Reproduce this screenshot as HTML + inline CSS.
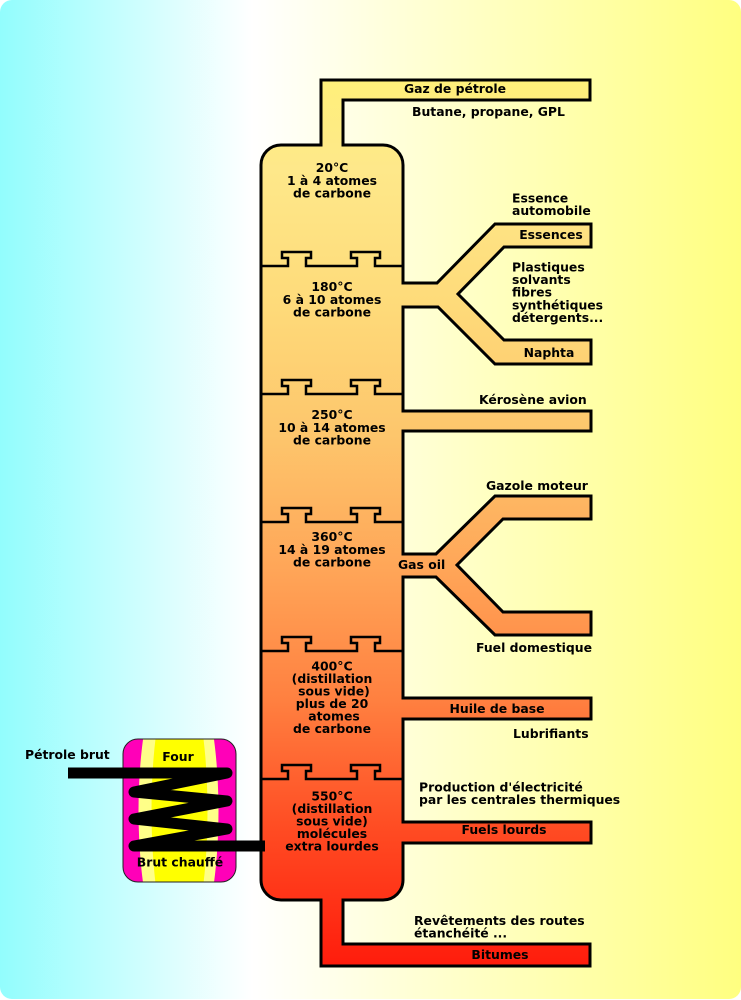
<!DOCTYPE html>
<html><head><meta charset="utf-8">
<style>
html,body{margin:0;padding:0;background:#fff;}
svg{display:block;}
text{font-family:"DejaVu Sans","Liberation Sans",sans-serif;font-weight:bold;font-size:12.4px;fill:#000;}
</style></head>
<body>
<svg width="741" height="1000" viewBox="0 0 741 1000" xmlns="http://www.w3.org/2000/svg">
<defs>
<linearGradient id="bg" x1="0" y1="0" x2="741" y2="0" gradientUnits="userSpaceOnUse">
<stop offset="0" stop-color="#92fdfd"/>
<stop offset="0.34" stop-color="#ffffff"/>
<stop offset="1" stop-color="#ffff80"/>
</linearGradient>
<linearGradient id="col" x1="0" y1="80" x2="0" y2="966" gradientUnits="userSpaceOnUse">
<stop offset="0" stop-color="#fff07a"/>
<stop offset="0.1" stop-color="#fee88a"/>
<stop offset="0.25" stop-color="#fedb7a"/>
<stop offset="0.4" stop-color="#fdc66c"/>
<stop offset="0.55" stop-color="#ffa658"/>
<stop offset="0.7" stop-color="#ff8040"/>
<stop offset="0.85" stop-color="#ff4a22"/>
<stop offset="1" stop-color="#ff1c0c"/>
</linearGradient>
<clipPath id="fc"><rect x="123" y="739" width="113" height="143" rx="15"/></clipPath>
</defs>

<rect x="0" y="0" width="741" height="999" rx="12" fill="url(#bg)"/>

<!-- column + pipes -->
<path d="M261,165 A20,20 0 0 1 281,145 L321,145 L321,80 L590,80 L590,100 L343,100 L343,145 L383,145 A20,20 0 0 1 403,165
L403,283 L437,283 L495,224 L591,224 L591,247 L504,247 L458,294 L504,340 L591,340 L591,364 L495,364 L438,307 L403,307
L403,411 L591,411 L591,431 L403,431
L403,554 L436,554 L495,496 L591,496 L591,519 L503,519 L457,565 L503,612 L591,612 L591,635 L495,635 L436,577 L403,577
L403,698 L591,698 L591,719 L403,719
L403,822 L591,822 L591,843 L403,843
L403,880 A20,20 0 0 1 383,900 L343,900 L343,944 L590,944 L590,966 L321,966 L321,900 L281,900 A20,20 0 0 1 261,880 Z"
fill="url(#col)" stroke="#000" stroke-width="3" stroke-linejoin="miter"/>

<!-- trays -->
<g fill="none" stroke="#000" stroke-width="2.5">
<path d="M261,266 L288,266 L288,258 L282,258 L282,252 L311,252 L311,258 L306,258 L306,266 L357,266 L357,258 L351,258 L351,252 L380,252 L380,258 L375,258 L375,266 L403,266"/>
<path d="M261,394 L288,394 L288,386 L282,386 L282,380 L311,380 L311,386 L306,386 L306,394 L357,394 L357,386 L351,386 L351,380 L380,380 L380,386 L375,386 L375,394 L403,394"/>
<path d="M261,522 L288,522 L288,514 L282,514 L282,508 L311,508 L311,514 L306,514 L306,522 L357,522 L357,514 L351,514 L351,508 L380,508 L380,514 L375,514 L375,522 L403,522"/>
<path d="M261,651 L288,651 L288,643 L282,643 L282,637 L311,637 L311,643 L306,643 L306,651 L357,651 L357,643 L351,643 L351,637 L380,637 L380,643 L375,643 L375,651 L403,651"/>
<path d="M261,779 L288,779 L288,771 L282,771 L282,765 L311,765 L311,771 L306,771 L306,779 L357,779 L357,771 L351,771 L351,765 L380,765 L380,771 L375,771 L375,779 L403,779"/>
</g>

<!-- column labels -->
<g text-anchor="middle">
<text x="332" y="172">20°C</text>
<text x="332" y="185">1 à 4 atomes</text>
<text x="332" y="197.5">de carbone</text>

<text x="332" y="291">180°C</text>
<text x="332" y="304">6 à 10 atomes</text>
<text x="332" y="316.5">de carbone</text>

<text x="332" y="419">250°C</text>
<text x="332" y="432">10 à 14 atomes</text>
<text x="332" y="444.5">de carbone</text>

<text x="332" y="541">360°C</text>
<text x="332" y="554">14 à 19 atomes</text>
<text x="332" y="566.5">de carbone</text>

<text x="332" y="670.5">400°C</text>
<text x="332" y="683">(distillation</text>
<text x="334" y="695.5">sous vide)</text>
<text x="332" y="708">plus de 20</text>
<text x="334" y="720.5">atomes</text>
<text x="332" y="733">de carbone</text>

<text x="332" y="800.5">550°C</text>
<text x="332" y="813">(distillation</text>
<text x="332" y="825.5">sous vide)</text>
<text x="332" y="838">molécules</text>
<text x="332" y="850.5">extra lourdes</text>

<text x="455" y="93">Gaz de pétrole</text>
<text x="551" y="239">Essences</text>
<text x="549" y="357">Naphta</text>
<text x="497" y="713">Huile de base</text>
<text x="504" y="834">Fuels lourds</text>
<text x="500" y="959">Bitumes</text>
<text x="178" y="761">Four</text>
<text x="180" y="866.5">Brut chauffé</text>
</g>

<!-- right labels -->
<text x="412" y="116">Butane, propane, GPL</text>
<text x="512" y="202.5">Essence</text>
<text x="512" y="215">automobile</text>
<text x="512" y="271.5">Plastiques</text>
<text x="512" y="284">solvants</text>
<text x="512" y="296.5">fibres</text>
<text x="512" y="309.5">synthétiques</text>
<text x="512" y="322">détergents...</text>
<text x="479" y="404">Kérosène avion</text>
<text x="486" y="490">Gazole moteur</text>
<text x="398" y="569">Gas oil</text>
<text x="476" y="652">Fuel domestique</text>
<text x="513" y="738">Lubrifiants</text>
<text x="419" y="791.5">Production d'électricité</text>
<text x="419" y="804">par les centrales thermiques</text>
<text x="414" y="925">Revêtements des routes</text>
<text x="414" y="937.5">étanchéité ...</text>
<text x="25" y="759">Pétrole brut</text>

<!-- furnace -->
<rect x="123" y="739" width="113" height="143" rx="15" fill="#ff00b8"/>
<g clip-path="url(#fc)">
<ellipse cx="178.5" cy="811" rx="40" ry="155" fill="#ffff88"/>
<ellipse cx="179.5" cy="811" rx="28" ry="140" fill="#ffff00"/>
</g>
<rect x="123" y="739" width="113" height="143" rx="15" fill="none" stroke="#222" stroke-width="1"/>
<g text-anchor="middle">
<text x="178" y="761">Four</text>
<text x="180" y="866.5">Brut chauffé</text>
</g>

<!-- coil -->
<path d="M68,773 L227,773 L134,792 L227,801 L134,819 L227,829 L134,846 L265,846" fill="none" stroke="#000" stroke-width="11" stroke-linejoin="round" stroke-linecap="butt"/>
</svg>
</body></html>
